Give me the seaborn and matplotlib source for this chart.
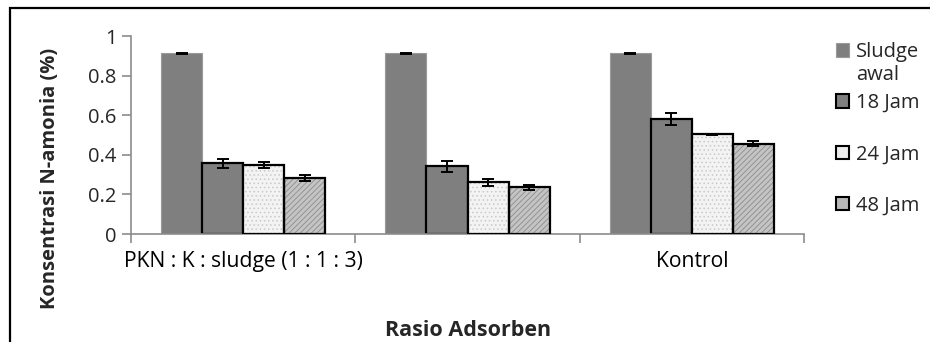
import numpy as np
import pandas as pd
import matplotlib.pyplot as plt
import seaborn as sns
from matplotlib.patches import Rectangle, Patch

# data
groups = ['PKN : K : sludge (1 : 1 : 3)', '', 'Kontrol']
series = ['Sludge awal', '18 Jam', '24 Jam', '48 Jam']
sludge_awal = [0.912, 0.912, 0.912]
jam18 = [0.357, 0.343, 0.580]
jam24 = [0.348, 0.262, 0.503]
jam48 = [0.281, 0.235, 0.457]
err_awal = [0.004, 0.004, 0.004]
err18 = [0.022, 0.028, 0.032]
err24 = [0.017, 0.018, 0.002]
err48 = [0.015, 0.014, 0.012]

df = pd.DataFrame({
    'group': groups * 4,
    'series': np.repeat(series, 3),
    'value': sludge_awal + jam18 + jam24 + jam48,
    'err': err_awal + err18 + err24 + err48,
})

sns.set_style('white')
plt.rcParams['font.family'] = ['Open Sans', 'DejaVu Sans']
plt.rcParams['hatch.linewidth'] = 0.6
fs = 14.5

faces = ['#7f7f7f', '#7f7f7f', '#f3f3f3', '#c4c4c4']
hatches = [None, None, '....', '//////']
hatch_cols = [None, None, '#c9c9c9', '#8c8c8c']

fig = plt.figure(figsize=(9.3, 3.42), dpi=100)
ax = fig.add_axes([131 / 930, 108 / 342, 673 / 930, 198 / 342])

sns.barplot(data=df, x='group', y='value', hue='series', order=groups,
            hue_order=series, palette=faces, width=0.732, saturation=1,
            errorbar=None, legend=False, ax=ax)

bar_conts = list(ax.containers)
for i, cont in enumerate(bar_conts):
    vals = df[df['series'] == series[i]]
    xs = [b.get_x() + b.get_width() / 2 for b in cont]
    for b in cont:
        b.set_facecolor(faces[i])
        if i == 0:
            b.set_edgecolor('#9a9a9a')
            b.set_linewidth(0.8)
        elif hatches[i] is None:
            b.set_edgecolor('black')
            b.set_linewidth(1.6)
        else:
            b.set_hatch(hatches[i])
            b.set_edgecolor(hatch_cols[i])
            b.set_linewidth(0)
            ax.add_patch(Rectangle((b.get_x(), b.get_y()), b.get_width(), b.get_height(),
                                   fill=False, edgecolor='black', linewidth=1.6, zorder=3))
    ax.errorbar(xs, vals['value'], yerr=vals['err'], fmt='none', ecolor='black',
                elinewidth=1.4, capsize=4, capthick=1.4, zorder=4)

ax.set_ylim(0, 1)
ax.set_xlim(-0.5, 2.5)
ax.set_yticks([0, 0.2, 0.4, 0.6, 0.8, 1.0])
ax.set_yticklabels(['0', '0.2', '0.4', '0.6', '0.8', '1'])
ax.set_xticks([-0.5, 0.5, 1.5, 2.5])
ax.set_xticklabels([])
ax.set_xticks([0, 1, 2], minor=True)
ax.set_xticklabels(groups, minor=True)
ax.tick_params(axis='x', which='major', length=6.5, width=1.2, color='#8c8c8c', direction='out', bottom=True)
ax.tick_params(axis='x', which='minor', length=0, pad=12, labelsize=15.2, colors='black')
ax.tick_params(axis='y', length=6.5, width=1.2, color='#8c8c8c', direction='out', left=True, labelsize=fs, pad=4)
for s in ['top', 'right']:
    ax.spines[s].set_visible(False)
for s in ['left', 'bottom']:
    ax.spines[s].set_color('#8c8c8c')
    ax.spines[s].set_linewidth(1.2)
ax.set_xlabel('')
ax.set_ylabel('')

fig.text(50 / 930, 1 - 178 / 342, 'Konsentrasi N-amonia (%)', rotation=90,
         ha='center', va='center', fontsize=14.5, fontweight='bold')
fig.text(468 / 930, 1 - 331 / 342, 'Rasio Adsorben', ha='center', va='center',
         fontsize=15.5, fontweight='bold')

handles = [
    Patch(facecolor=faces[0], edgecolor='#9a9a9a', linewidth=0.8),
    Patch(facecolor=faces[1], edgecolor='black', linewidth=1.5),
    Patch(facecolor='#ececec', edgecolor='black', linewidth=1.5),
    Patch(facecolor='#b8b8b8', edgecolor='black', linewidth=1.5),
]
leg = fig.legend(handles, ['Sludge', '18 Jam', '24 Jam', '48 Jam'], loc='upper left',
                 bbox_to_anchor=(836 / 930, 1 - 42 / 342), frameon=False, fontsize=fs,
                 handlelength=0.65, handleheight=0.65, handletextpad=0.35,
                 labelspacing=1.55, borderpad=0, borderaxespad=0)
fig.canvas.draw()
ax.annotate('awal', xy=(0, 0), xycoords=leg.get_texts()[0], xytext=(0, -2),
            textcoords='offset points', ha='left', va='top', fontsize=fs,
            annotation_clip=False)

fig.add_artist(Rectangle((10 / 930, -0.2), 2, 1 - 8 / 342 + 0.2, transform=fig.transFigure,
                         fill=False, edgecolor='black', linewidth=1.6))

fig.savefig('out.png', dpi=100)
